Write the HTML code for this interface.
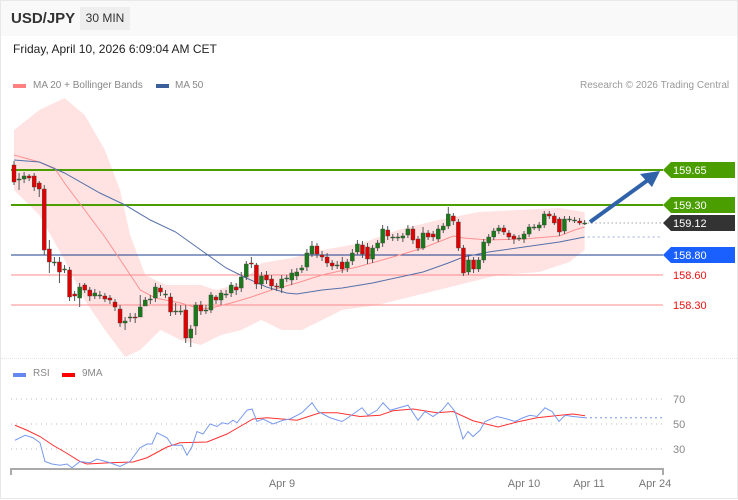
<!DOCTYPE html>
<html><head><meta charset="utf-8"><style>
html,body{margin:0;padding:0;background:#fff;}
body{width:738px;height:500px;overflow:hidden;font-family:"Liberation Sans",sans-serif;position:relative;}
.t{position:absolute;white-space:nowrap;}
</style></head><body>
<div style="position:absolute;left:0;top:0;width:736px;height:497px;border:1px solid #e8e8e8;"></div>
<div style="position:absolute;left:1px;top:1px;width:736px;height:35px;background:#f9f9f9;"></div>
<div class="t" style="left:11px;top:10px;font-size:15px;font-weight:bold;color:#333;">USD/JPY</div>
<div class="t" style="left:80px;top:7px;width:50px;height:23px;background:#eeeeee;font-size:12px;color:#333;line-height:23px;text-align:center;">30 MIN</div>
<div class="t" style="left:13px;top:42px;font-size:12px;color:#222;">Friday, April 10, 2026 6:09:04 AM CET</div>
<div style="position:absolute;left:13px;top:84px;width:13px;height:4px;background:#ff8080;"></div>
<div class="t" style="left:33px;top:80px;font-size:10px;color:#888;">MA 20 + Bollinger Bands</div>
<div style="position:absolute;left:156px;top:84px;width:13px;height:4px;background:#3a5f9a;"></div>
<div class="t" style="left:175px;top:80px;font-size:10px;color:#888;">MA 50</div>
<div class="t" style="left:580px;top:80px;font-size:10px;color:#999;">Research © 2026 Trading Central</div>
<div style="position:absolute;left:1px;top:358px;width:736px;border-top:1px dotted #e4e4e4;"></div>
<div style="position:absolute;left:13px;top:373px;width:13px;height:4px;background:#6688ee;"></div>
<div class="t" style="left:33px;top:368px;font-size:10px;color:#888;">RSI</div>
<div style="position:absolute;left:62px;top:373px;width:13px;height:4px;background:#ff0000;"></div>
<div class="t" style="left:82px;top:368px;font-size:10px;color:#888;">9MA</div>

<svg id="chart" width="738" height="500" style="position:absolute;left:0;top:0;"></svg>

<script>
const opens=[159.70,159.56,159.56,159.59,159.59,159.52,159.46,158.86,158.73,158.73,158.66,158.65,158.41,158.37,158.50,158.45,158.39,158.40,158.39,158.37,158.33,158.26,158.12,158.17,158.18,158.18,158.29,158.36,158.37,158.47,158.41,158.38,158.24,158.24,158.25,157.97,158.09,158.30,158.25,158.25,158.38,158.35,158.41,158.42,158.48,158.47,158.58,158.72,158.70,158.51,158.60,158.56,158.49,158.47,158.57,158.55,158.59,158.65,158.68,158.81,158.89,158.80,158.78,158.72,158.70,158.73,158.67,158.74,158.83,158.90,158.88,158.76,158.87,158.92,159.05,158.98,158.98,158.97,159.00,159.06,158.96,158.87,159.02,159.01,158.96,159.05,159.09,159.19,159.13,158.87,158.63,158.75,158.66,158.75,158.92,158.98,159.04,159.07,159.02,158.99,158.97,158.96,159.01,159.08,159.07,159.10,159.21,159.19,159.16,159.04,159.16,159.15,159.14,159.12];
const closes=[159.53,159.56,159.59,159.57,159.48,159.46,158.85,158.73,158.73,158.63,158.66,158.38,158.39,158.48,158.45,158.39,158.42,158.40,158.36,158.35,158.28,158.12,158.14,158.18,158.17,158.28,158.35,158.36,158.48,158.43,158.41,158.23,158.24,158.24,157.97,158.06,158.30,158.24,158.25,158.40,158.35,158.42,158.41,158.50,158.45,158.58,158.71,158.71,158.51,158.59,158.55,158.49,158.48,158.56,158.57,158.62,158.63,158.67,158.82,158.89,158.81,158.78,158.72,158.69,158.70,158.66,158.73,158.82,158.91,158.81,158.76,158.87,158.92,159.06,158.99,158.98,158.98,158.99,159.06,158.95,158.87,159.02,158.98,158.98,159.06,159.09,159.21,159.14,158.87,158.62,158.75,158.66,158.75,158.93,158.98,159.04,159.07,159.03,158.98,158.96,158.97,159.01,159.08,159.08,159.10,159.21,159.19,159.12,159.03,159.16,159.16,159.15,159.12,159.12];
const highs=[159.74,159.62,159.63,159.61,159.62,159.54,159.50,158.95,158.78,158.78,158.70,158.68,158.44,158.52,158.52,158.48,158.46,158.44,158.42,158.40,158.36,158.30,158.18,158.22,158.22,158.40,158.38,158.40,158.52,158.50,158.45,158.42,158.32,158.30,158.30,158.10,158.33,158.34,158.30,158.43,158.40,158.45,158.45,158.53,158.52,158.63,158.74,158.78,158.72,158.63,158.64,158.60,158.52,158.60,158.60,158.66,158.67,158.70,158.86,158.94,158.92,158.84,158.82,158.75,158.74,158.78,158.76,158.86,158.95,158.94,158.92,158.90,158.95,159.10,159.09,159.01,159.02,159.02,159.10,159.09,158.99,159.08,159.05,159.04,159.10,159.12,159.28,159.22,159.16,158.90,158.79,158.78,158.78,158.96,159.01,159.07,159.10,159.10,159.05,159.01,159.00,159.04,159.11,159.11,159.13,159.24,159.24,159.22,159.18,159.19,159.19,159.18,159.17,159.15];
const lows=[159.50,159.45,159.52,159.54,159.44,159.38,158.80,158.62,158.69,158.52,158.62,158.34,158.34,158.28,158.42,158.34,158.36,158.36,158.33,158.31,158.24,158.08,158.05,158.13,158.12,158.22,158.31,158.31,158.33,158.39,158.37,158.19,158.20,158.20,157.92,157.88,158.00,158.20,158.21,158.22,158.31,158.30,158.37,158.38,158.40,158.43,158.55,158.67,158.46,158.46,158.51,158.45,158.44,158.42,158.53,158.50,158.55,158.62,158.64,158.78,158.77,158.74,158.68,158.65,158.66,158.62,158.63,158.70,158.80,158.77,158.71,158.72,158.84,158.88,158.95,158.94,158.94,158.93,158.97,158.91,158.84,158.85,158.95,158.94,158.93,159.02,159.06,159.10,158.84,158.59,158.60,158.62,158.63,158.72,158.89,158.95,159.01,159.00,158.95,158.91,158.94,158.92,158.98,159.05,159.04,159.07,159.16,159.10,158.99,159.01,159.13,159.12,159.10,159.10];
const ma50Idx=[0,5,10,17,22,27,32,37,42,46,50,54,56,61,65,71,81,86,89,94,101,108,113];
const ma50Val=[159.75,159.73,159.62,159.42,159.30,159.15,159.03,158.85,158.67,158.57,158.48,158.42,158.41,158.45,158.47,158.52,158.63,158.72,158.78,158.83,158.88,158.93,158.98];
const ma20Idx=[0,5,8,10,14,18,22,25,28,33,37,39,43,47,51,56,61,68,75,81,87,89,94,101,108,111,113];
const ma20Val=[159.80,159.73,159.67,159.52,159.25,158.98,158.68,158.45,158.37,158.32,158.26,158.27,158.32,158.38,158.45,158.52,158.60,158.68,158.78,158.87,158.99,158.97,158.95,158.96,158.99,159.05,159.08];
const bbUpIdx=[0,5,10,14,18,21,23,26,30,37,40,45,49,55,61,69,76,84,92,100,108,113];
const bbUpVal=[160.05,160.25,160.37,160.20,159.85,159.45,159.00,158.60,158.50,158.50,158.45,158.52,158.72,158.77,158.85,158.92,159.05,159.15,159.23,159.25,159.27,159.23];
const bbLoIdx=[0,5,10,14,18,22,25,29,33,37,41,45,49,53,57,65,72,80,88,96,104,110,113];
const bbLoVal=[159.45,159.20,158.75,158.35,158.05,157.78,157.85,158.05,157.95,157.90,158.00,158.05,158.15,158.05,158.05,158.25,158.30,158.40,158.50,158.60,158.63,158.73,158.85];
const levelPrices=[159.65,159.30,158.80,158.60,158.30];
const levelLabels=["159.65","159.30","158.80","158.60","158.30"];
const lastPrice=159.12;
const lastLabel="159.12";
const rsiX=[15,25,33,40,45,52,60,67,72,80,90,97,110,120,130,140,147,152,157,167,172,182,187,192,197,203,210,217,222,228,233,237,247,252,257,263,273,283,290,302,312,318,330,342,348,362,368,377,383,390,408,418,425,433,442,448,455,463,468,473,480,485,497,507,515,523,530,537,545,552,559,565,573,585];
const rsiVal=[37,41,39,35,20,18,17,18,15,20,19,22,19,16,20,31,34,34,43,39,33,33,25,32,44,42,50,48,51,50,53,51,61,62,52,54,50,53,54,59,67,60,55,52,55,63,57,61,67,61,65,53,60,56,61,67,60,38,44,40,45,52,56,54,52,55,57,56,63,60,52,57,56,55];
const maX=[15,27,40,53,67,80,87,110,133,147,167,180,207,227,240,253,267,297,320,337,360,380,393,413,437,453,473,498,517,537,560,573,585];
const maVal=[49,45,40,33,26.5,20,18,19,19.6,23,31.6,35,35.6,42,48,54,55,53,59,59,56,57,60.6,62,59,60,52.6,47.6,51.6,55,57,58,56.6];
const rsiTicks=[70,50,30];
const dateLabels=["Apr 9","Apr 10","Apr 11","Apr 24"];
const dateX=[282,524,589,655];

const NS="http://www.w3.org/2000/svg";
const svg=document.getElementById('chart');
const X=i=>14+i*5.05;
const Y=p=>170+(159.65-p)*100;
const RY=v=>424-(v-50)*1.25;
function mk(tag,attrs,parent){const e=document.createElementNS(NS,tag);for(const k in attrs)e.setAttribute(k,attrs[k]);(parent||svg).appendChild(e);return e;}

let d='';
bbUpIdx.forEach((ix,k)=>{d+=(k?'L':'M')+X(ix)+','+Y(bbUpVal[k]);});
for(let k=bbLoIdx.length-1;k>=0;k--){d+='L'+X(bbLoIdx[k])+','+Y(bbLoVal[k]);}
const band=mk('path',{d:d+'Z',fill:'#ffe3e3',stroke:'none'});



const lvlColors=['#4a9e00','#4a9e00','#1a3c8c','#ff8888','#ff8888'];
const lvlW=[2,2,1,1,1];
levelPrices.forEach((p,k)=>{
  const l=mk('line',{x1:11,x2:663,y1:Y(p),y2:Y(p),stroke:lvlColors[k],'stroke-width':lvlW[k]});
  
  
});
const lp=mk('line',{x1:X(closes.length-1)+3,x2:663,y1:Y(lastPrice),y2:Y(lastPrice),stroke:'#777','stroke-width':1,'stroke-dasharray':'1,3'});


const mp=mk('line',{x1:X(ma50Idx[ma50Idx.length-1])+3,x2:660,y1:Y(ma50Val[ma50Val.length-1]),y2:Y(ma50Val[ma50Val.length-1]),stroke:'#99aadd','stroke-width':1,'stroke-dasharray':'2,3'});



function poly(ix,vals,fx,fy,color,w,name){
  const pts=ix.map((v,k)=>fx(v)+','+fy(vals[k])).join(' ');
  const e=mk('polyline',{points:pts,fill:'none',stroke:color,'stroke-width':w});
  
  
}
poly(ma20Idx,ma20Val,X,Y,'#ff9090',1,'ma20-line');
poly(ma50Idx,ma50Val,X,Y,'#5570a8',1,'ma50-line');

opens.forEach((o,i)=>{
  const c=closes[i],x=X(i);
  const up=c>=o;
  const w=mk('line',{x1:x,x2:x,y1:Y(highs[i]),y2:Y(lows[i]),stroke:'#555','stroke-width':1});
  
  
  const top=Y(Math.max(o,c)),h=Math.max(1,Math.abs(Y(o)-Y(c)));
  const b=mk('rect',{x:x-2,y:top,width:4,height:h,fill:up?'#1a7a1a':'#e00000',stroke:'#444','stroke-width':0.4});
  
  
});

const ar=mk('line',{x1:590,y1:222,x2:648,y2:180,stroke:'#2f62a8','stroke-width':4});


const ah=mk('polygon',{points:'660,171 640,174 652,187',fill:'#2f62a8'});



const tagFill=['#4a9e00','#4a9e00','#1a5fff'];
levelPrices.forEach((p,k)=>{
  const y=Y(p);
  if(k<3){
    const g=mk('polygon',{points:`663,${y} 671,${y-8} 735,${y-8} 735,${y+8} 671,${y+8}`,fill:tagFill[k]});
    
    
  }
  const t=mk('text',{x:673,y:y+4,'font-size':11,fill:k<3?'#fff':'#ee1111','font-family':'Liberation Sans, sans-serif'});
  t.textContent=levelLabels[k];
  
  
});
{
  const y=Y(lastPrice);
  const g=mk('polygon',{points:`663,${y} 671,${y-8} 735,${y-8} 735,${y+8} 671,${y+8}`,fill:'#333'});
  
  
  const t=mk('text',{x:673,y:y+4,'font-size':11,fill:'#fff','font-family':'Liberation Sans, sans-serif'});
  t.textContent=lastLabel;
  
  
}

rsiTicks.forEach(v=>{
  const l=mk('line',{x1:11,x2:663,y1:RY(v),y2:RY(v),stroke:'#bbb','stroke-width':1,'stroke-dasharray':'1,4'});
  
  
  const t=mk('text',{x:673,y:RY(v)+4,'font-size':11,fill:'#888','font-family':'Liberation Sans, sans-serif'});
  t.textContent=v;
  
  
});
poly(maX,maVal,v=>v,RY,'#ff3030',1,'rsi-9ma-line');
poly(rsiX,rsiVal,v=>v,RY,'#7799ee',1,'rsi-line');
const rp=mk('line',{x1:rsiX[rsiX.length-1],x2:662,y1:RY(rsiVal[rsiVal.length-1]),y2:RY(rsiVal[rsiVal.length-1]),stroke:'#7799ee','stroke-width':1,'stroke-dasharray':'2,3'});



const ax=mk('path',{d:'M11,475 L11,469 L663,469 L663,475',fill:'none',stroke:'#aaa','stroke-width':2});


dateLabels.forEach((s,k)=>{
  const t=mk('text',{x:dateX[k],y:487,'font-size':11,fill:'#777','text-anchor':'middle','font-family':'Liberation Sans, sans-serif'});
  t.textContent=s;
  
  
});
</script>
</body></html>
